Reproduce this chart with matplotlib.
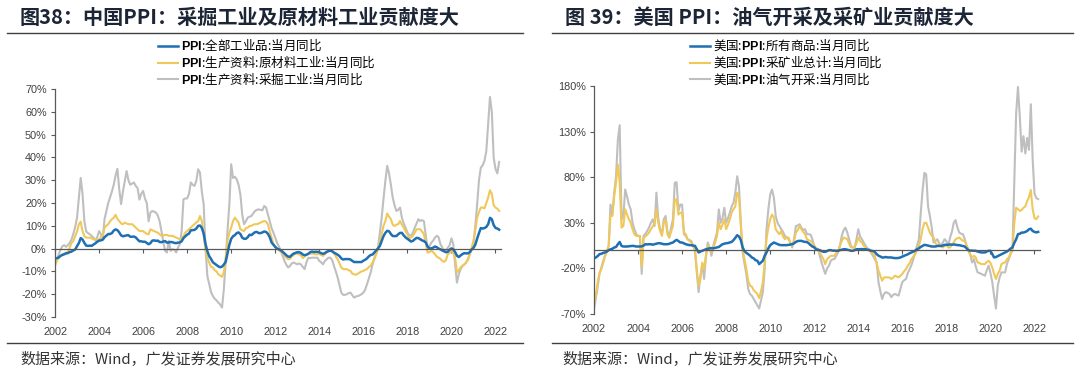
import numpy as np
import matplotlib
matplotlib.use("Agg")
import matplotlib.pyplot as plt
from matplotlib.lines import Line2D

# ---- data, monthly, 2002-01 .. 2022-03 (values in %) ----
# China PPI: all industrial products, yoy
cn_all = [
    -4.2, -4.2, -3.9, -3.2, -2.8, -2.5, -2.1, -2.0, -1.5, -1.3, -0.8, -0.4,
    1.1, 2.4, 4.6, 4.0, 2.5, 1.3, 1.2, 1.3, 1.2, 1.8, 2.3, 3.0,
    3.5, 3.6, 3.9, 5.0, 5.7, 6.4, 6.4, 6.8, 7.9, 8.4, 8.1, 7.1,
    5.8, 5.4, 5.6, 5.8, 5.9, 5.2, 5.2, 5.3, 4.9, 4.0, 3.2, 3.2,
    3.0, 3.0, 2.5, 1.9, 2.4, 3.5, 3.6, 3.4, 3.5, 2.9, 2.8, 3.1,
    3.3, 2.6, 2.7, 2.9, 2.8, 2.5, 2.4, 2.6, 2.7, 3.2, 4.6, 5.4,
    6.1, 6.6, 8.0, 8.1, 8.2, 8.8, 10.0, 10.1, 9.1, 6.6, 2.0, -1.1,
    -3.3, -4.5, -6.0, -6.6, -7.2, -7.8, -8.2, -7.9, -7.0, -5.8, -2.1, 1.7,
    4.3, 5.4, 5.9, 6.8, 7.1, 6.4, 4.8, 4.3, 4.3, 5.0, 6.1, 5.9,
    6.6, 7.2, 7.3, 6.8, 6.8, 7.1, 7.5, 7.3, 6.5, 5.0, 2.7, 1.7,
    0.7, 0.0, -0.3, -0.7, -1.4, -2.1, -2.9, -3.5, -3.6, -2.8, -2.2, -1.9,
    -1.6, -1.6, -1.9, -2.6, -2.9, -2.7, -2.3, -1.6, -1.3, -1.5, -1.4, -1.4,
    -1.6, -2.0, -2.3, -2.0, -1.4, -1.1, -0.9, -1.2, -1.8, -2.2, -2.7, -3.3,
    -4.3, -4.8, -4.6, -4.6, -4.6, -4.8, -5.4, -5.9, -5.9, -5.9, -5.9, -5.9,
    -5.3, -4.9, -4.3, -3.4, -2.8, -2.6, -1.7, -0.8, 0.1, 1.2, 3.3, 5.5,
    6.9, 7.8, 7.6, 6.4, 5.5, 5.5, 5.5, 6.3, 6.9, 6.9, 5.8, 4.9,
    4.3, 3.7, 3.1, 3.4, 4.1, 4.7, 4.6, 4.1, 3.6, 3.3, 2.7, 0.9,
    0.1, 0.1, 0.4, 0.9, 0.6, 0.0, -0.3, -0.8, -1.2, -1.6, -1.4, -0.5,
    0.1, -0.4, -1.5, -3.1, -3.7, -3.0, -2.4, -2.0, -2.1, -2.1, -1.5, -0.4,
    0.3, 1.7, 4.4, 6.8, 9.0, 8.8, 9.0, 9.5, 10.7, 13.5, 12.9, 10.3,
    9.1, 8.8, 8.3]

# China PPI: producer goods, raw materials
cn_raw = [
    -6.9, -5.5, -4.0, -3.3, -2.5, -2.2, -1.8, -1.5, 0.4, 2.5, 3.4, 5.5,
    7.5, 10.7, 11.8, 7.7, 5.5, 4.8, 4.8, 4.8, 4.5, 4.1, 4.0, 3.8,
    4.0, 5.0, 5.6, 9.2, 10.0, 10.7, 12.0, 12.9, 13.5, 14.8, 13.0, 12.1,
    11.0, 10.7, 11.4, 11.0, 10.7, 10.7, 10.7, 10.0, 9.2, 8.5, 7.7, 7.7,
    7.7, 7.0, 6.5, 6.3, 8.5, 8.0, 7.7, 7.3, 7.0, 6.3, 5.6, 5.8,
    6.0, 6.0, 5.6, 5.6, 5.6, 5.2, 4.8, 4.5, 4.1, 4.1, 5.5, 7.0,
    7.7, 8.5, 9.2, 10.0, 10.7, 11.5, 12.1, 14.3, 12.1, 6.0, -0.5, -4.0,
    -6.1, -8.0, -8.3, -9.5, -10.0, -11.3, -11.8, -12.4, -10.5, -4.0, 3.4, 7.0,
    9.2, 12.1, 13.6, 12.5, 11.4, 8.5, 8.0, 7.7, 9.0, 9.2, 9.9, 10.0,
    10.5, 10.7, 10.7, 11.0, 11.4, 11.8, 12.1, 11.8, 10.7, 7.5, 4.8, 1.9,
    1.0, 0.0, -0.8, -1.5, -1.8, -3.0, -4.0, -4.7, -4.5, -3.5, -2.8, -2.2,
    -2.2, -2.5, -3.0, -4.2, -3.5, -2.5, -2.2, -2.2, -2.2, -2.2, -2.5, -2.5,
    -2.3, -2.8, -3.2, -2.5, -1.8, -1.0, -0.7, -0.8, -1.8, -3.5, -4.7, -6.5,
    -8.3, -9.0, -9.0, -9.0, -9.5, -9.8, -11.0, -11.3, -11.5, -11.0, -10.5, -10.0,
    -9.8, -9.3, -9.0, -8.0, -7.6, -6.0, -4.7, -2.5, -0.3, 3.0, 6.3, 10.0,
    12.1, 15.4, 14.0, 12.9, 10.5, 9.9, 10.5, 10.7, 12.1, 10.5, 9.2, 7.5,
    6.3, 4.5, 5.0, 5.6, 7.0, 8.5, 8.5, 8.5, 7.5, 6.3, 2.6, -1.8,
    -1.5, -1.0, -1.5, -2.5, -3.5, -4.0, -4.5, -5.4, -5.8, -5.0, -2.5, -1.8,
    -1.0, -2.0, -4.0, -10.5, -9.5, -8.3, -7.5, -6.9, -6.1, -5.0, -2.5, 0.5,
    3.4, 8.0, 13.6, 16.0, 18.0, 18.0, 17.7, 20.0, 22.4, 25.6, 24.0, 19.0,
    18.0, 17.5, 16.5]

# China PPI: producer goods, mining
cn_mining = [
    -7.5, -5.0, -2.5, -0.5, 1.0, 1.5, 0.8, 1.5, 2.5, 4.0, 6.5, 9.5,
    13.5, 22.0, 31.0, 24.0, 12.0, 7.5, 6.8, 6.3, 5.5, 4.8, 3.5, 5.0,
    7.7, 6.3, 4.2, 13.0, 16.5, 20.0, 22.5, 25.0, 28.0, 32.0, 35.0, 26.0,
    19.5, 25.0, 29.5, 34.0, 30.0, 28.0, 28.5, 29.0, 27.5, 26.5, 21.5, 24.0,
    25.3, 22.0, 20.0, 12.0, 15.8, 16.5, 16.2, 15.8, 14.5, 12.0, 7.7, 3.0,
    -1.0, -1.7, 3.4, -1.0, -0.3, -0.5, -1.7, 0.4, 2.0, 7.7, 21.6, 22.0,
    22.0, 24.0, 29.0, 28.0, 27.5, 29.7, 34.8, 33.3, 25.0, 19.4, 0.4, -12.0,
    -15.6, -19.0, -20.8, -22.0, -22.7, -23.7, -24.5, -25.9, -17.8, -5.4, 8.0, 19.4,
    37.0, 31.0, 31.5, 30.4, 28.0, 23.8, 15.0, 10.7, 12.0, 13.6, 14.0, 14.3,
    15.5, 16.5, 17.0, 17.2, 17.0, 16.8, 18.7, 18.0, 15.0, 12.0, 9.0, 7.0,
    4.8, 2.5, 1.0, -1.0, -3.0, -5.4, -7.0, -8.3, -7.6, -6.5, -6.1, -6.5,
    -6.9, -6.5, -7.0, -8.0, -9.0, -6.0, -4.0, -4.2, -4.0, -4.0, -4.0, -4.0,
    -5.4, -6.0, -6.9, -5.5, -4.7, -4.0, -4.0, -5.0, -7.6, -10.0, -12.7, -16.0,
    -19.3, -20.3, -20.3, -20.0, -19.5, -19.3, -20.5, -21.5, -21.0, -20.8, -20.5, -20.0,
    -19.3, -18.0, -15.6, -13.0, -10.5, -7.0, -4.0, -2.0, 0.4, 7.0, 13.6, 22.0,
    29.7, 36.3, 33.0, 28.0, 22.4, 19.0, 16.5, 17.0, 18.0, 13.6, 11.0, 9.2,
    7.0, 6.0, 5.6, 7.0, 9.2, 11.0, 12.9, 12.1, 12.5, 12.0, 6.0, -0.3,
    1.0, 2.6, 3.5, 4.8, 5.6, 5.0, 1.9, 0.5, -1.0, -1.0, 0.4, 1.5,
    4.5, 2.0, -6.9, -14.9, -11.3, -9.0, -7.6, -7.0, -6.1, -4.5, -2.5, -0.5,
    1.9, 10.0, 19.4, 30.0, 35.5, 36.5, 38.5, 42.8, 55.0, 66.5, 60.0, 40.0,
    35.0, 33.0, 38.0]

# US PPI: all commodities
us_all = [
    -9.1, -8.0, -6.5, -4.4, -4.0, -3.0, -2.5, -1.5, 0.0, 1.0, 1.5, 2.9,
    3.5, 6.5, 9.0, 4.7, 4.0, 4.0, 4.0, 4.3, 4.5, 4.7, 4.5, 4.0,
    4.0, 4.0, 4.2, 5.0, 6.5, 6.3, 6.5, 6.5, 6.0, 6.5, 7.0, 7.6,
    7.6, 7.0, 6.5, 6.5, 6.5, 7.0, 7.8, 8.4, 10.0, 11.3, 10.0, 8.4,
    8.4, 7.5, 6.5, 6.0, 5.5, 5.5, 5.0, 4.7, 1.0, -2.5, -1.5, -0.7,
    0.0, 1.0, 1.5, 2.0, 2.2, 2.0, 2.5, 2.9, 3.5, 5.0, 6.5, 7.0,
    7.6, 7.8, 8.5, 9.0, 11.0, 13.5, 16.4, 15.0, 11.0, 2.9, -1.0, -3.0,
    -4.4, -6.0, -8.0, -9.0, -11.0, -11.6, -15.3, -13.5, -11.6, -6.0, -2.5, 2.0,
    5.5, 7.0, 8.4, 7.5, 6.5, 5.8, 5.5, 5.5, 5.5, 5.5, 5.8, 6.0,
    6.5, 7.5, 9.0, 10.0, 10.2, 10.2, 9.5, 9.0, 9.0, 7.5, 5.5, 4.0,
    3.0, 1.0, 0.5, 0.0, -1.0, -1.8, -1.8, -1.0, 0.0, 0.0, -0.5, -0.5,
    -0.7, -0.7, 0.0, 0.5, 1.0, 1.0, 0.5, 0.0, -0.7, -0.7, 0.0, 1.0,
    1.0, 1.0, 1.2, 1.0, 1.0, 0.5, 0.0, -0.7, -1.0, -2.0, -4.4, -6.0,
    -7.0, -8.0, -8.0, -7.5, -8.0, -8.0, -8.0, -8.5, -8.7, -8.7, -8.5, -8.0,
    -7.0, -6.2, -5.5, -4.5, -3.3, -2.5, -1.5, -0.5, 1.0, 2.0, 3.5, 4.7,
    5.8, 5.5, 5.0, 4.5, 4.0, 4.0, 4.0, 4.5, 4.7, 4.5, 5.0, 5.8,
    5.8, 6.0, 6.2, 6.0, 6.2, 6.0, 5.5, 5.5, 5.0, 4.5, 4.0, 2.0,
    0.0, -0.5, -0.5, -0.7, -0.7, -1.5, -2.0, -2.5, -2.5, -2.5, -1.5, -0.7,
    -0.7, -4.4, -8.0, -7.5, -6.5, -5.5, -4.5, -3.5, -2.5, -1.5, 0.0, 1.8,
    3.0, 8.0, 12.0, 17.5, 18.0, 19.3, 19.3, 20.0, 21.0, 22.9, 23.5, 21.0,
    20.0, 19.5, 20.0]

# US PPI: mining total
us_mining = [
    -59, -50, -35, -25, -20.7, -14, -6.2, -2, 4.7, 39, 37.5, 59,
    74, 94, 74, 24.7, 26.5, 44.7, 39, 34, 30, 23, 17.5, 15.6,
    15.6, 15.6, -18, 13.8, 15, 17, 19.3, 23, 26, 30, 44.7, 30,
    21, 15.6, 30, 33.8, 17.5, 13.8, 20, 26.5, 55.6, 55.6, 39, 41,
    41, 19.3, 17.5, 12, 10, 8.4, 4, 1, -20.7, -39, -31.6, -13.5,
    -20.7, -6.2, 4.7, 3, -2.5, 3, 8.4, 15.6, 30, 23, 28, 33.8,
    23, 28, 33.8, 41, 45, 48, 63, 58, 26.5, 1, -10, -20.7,
    -33.5, -39, -40, -44, -46, -48, -52.7, -45, -35, -13.5, 12, 25,
    33.8, 39, 35.6, 23, 20, 17.5, 21, 15, 12, 13.8, 13.8, 8,
    4.7, 10.2, 19.3, 22, 26.5, 23, 20, 17.5, 12, 11, 10.2, 8,
    4.7, 2, 1, -3, -6.2, -10, -15.3, -10, -8, -6.2, -6.2, -6.2,
    -3, -0.7, 5, 10.2, 13.8, 13, 12, 7, 2.9, 2.9, 2.9, 8,
    13.8, 10, 8.4, 4.7, 3, 1, 0, -2.5, -4, -6.2, -14, -22.5,
    -28, -33.5, -30, -29.8, -29.8, -30, -31.6, -30, -28, -29, -29.8, -28,
    -26, -23, -20.7, -17, -14, -9.8, -7, -4.4, 0, 4.7, 12, 23,
    30, 30, 25, 19.3, 16, 13.8, 8, 4.7, 6.5, 5, 2.9, 4.5,
    6.5, 2.9, 2.9, 6, 8.4, 12, 13, 13.8, 12, 10.2, 10.2, 5,
    -0.7, -5, -8, -6.2, -8, -13.5, -14, -15.3, -15.3, -15.3, -13, -11.6,
    -14, -19, -26, -31.6, -26, -22.5, -15.3, -14, -13.5, -10, -8, -3,
    -0.7, 30, 46.5, 45, 43, 44, 46.5, 48, 53.8, 58, 66, 45,
    35, 34, 37]

# US PPI: oil and gas extraction
us_oil = [
    -64, -53, -40, -26, -19, -12, -6.2, -1, 4.7, 50, 39, 63,
    81, 121, 137, 33.8, 37.5, 66.5, 59, 50, 44.7, 30, 23, 17.5,
    15.6, 15.6, -26, 15.6, 18, 21, 25, 30, 33.8, 26.5, 63, 35,
    23, 17.5, 33.8, 37.5, 21, 13.8, 25, 33.8, 74, 74.5, 43, 50,
    50, 17.5, 15.6, 12, 11, 10.2, 5, -0.7, -24.4, -46, -28, -15.3,
    -31.6, -6.2, 8.4, 2.9, -6.2, 5, 12, 19.3, 44.7, 30, 35, 46.5,
    30, 35, 41, 48, 52, 63, 81, 70, 30, -2.5, -15, -26,
    -42.5, -48, -50, -53.5, -57, -60.7, -64, -55, -46, -20.7, 23, 45,
    61, 66.5, 57.5, 37.5, 30, 26.5, 23, 20, 15.6, 14, 12, 8,
    2.9, 12, 26.5, 27, 28.4, 24.7, 22, 23, 17.5, 17.5, 17, 12,
    4.7, 2, 1, -6, -13.5, -20, -26, -20, -17, -11.6, -10, -9.8,
    -6, -2.5, 5, 15.6, 22, 24.7, 19.3, 12, 4.7, 3, 2.9, 12,
    23, 15, 12, 8, 4.7, 2, 1, -3, -6.2, -10, -13.5, -35,
    -45, -53.5, -48, -46, -47, -48, -51.6, -49, -48, -49, -49.8, -42,
    -35, -33, -31.6, -25, -20.7, -16, -10, -2.5, 5, 12, 40, 65,
    84.7, 83, 48, 37.5, 25, 8.4, 10, 12, 8, 4.7, 8, 12,
    10, 4.7, 13.8, 20, 30, 33, 25, 19.3, 18, 17.5, 12, 5,
    1, -5, -13.5, -9.8, -18, -24.4, -25, -26, -27, -28, -22, -17,
    -25, -35, -50, -64, -39, -30, -24.4, -24.4, -24.4, -15, -9.8, -4,
    1, 74, 150, 179, 146, 108, 125, 106, 123, 110, 160, 100,
    62, 57, 56]

years = list(range(2002, 2023, 2))
cn_yticks = [-30, -20, -10, 0, 10, 20, 30, 40, 50, 60, 70]
us_yticks = [-70, -20, 30, 80, 130, 180]

cn_labels = [r"$\mathbf{PPI}$:全部工业品:当月同比",
             r"$\mathbf{PPI}$:生产资料:原材料工业:当月同比",
             r"$\mathbf{PPI}$:生产资料:采掘工业:当月同比"]
us_labels = [r"美国:$\mathbf{PPI}$:所有商品:当月同比",
             r"美国:$\mathbf{PPI}$:采矿业总计:当月同比",
             r"美国:$\mathbf{PPI}$:油气开采:当月同比"]

BLUE, YELLOW, GREY = "#1f6fb4", "#f0c85a", "#bfbfbf"

plt.rcParams["font.family"] = ["Noto Sans CJK SC", "DejaVu Sans"]
plt.rcParams["mathtext.fontset"] = "custom"
plt.rcParams["mathtext.bf"] = "Liberation Sans:bold"
plt.rcParams["mathtext.rm"] = "Liberation Sans"

W, H = 1080, 374
fig = plt.figure(figsize=(W / 100, H / 100), dpi=100)


def fx(x):
    return x / W


def fy(y):
    return 1 - y / H


def setup(ax, ylim, yticks):
    ax.set_xlim(2002, 2022.25)
    ax.set_ylim(*ylim)
    ax.set_yticks(yticks)
    ax.set_yticklabels([f"{v}%" for v in yticks], fontfamily="Liberation Sans",
                       fontsize=7.8, color="#404040")
    for s in ["top", "right"]:
        ax.spines[s].set_visible(False)
    for s in ["left", "bottom"]:
        ax.spines[s].set_color("#595959")
        ax.spines[s].set_linewidth(0.9)
    ax.spines["bottom"].set_position(("data", 0))
    ax.set_xticks(years)
    ax.tick_params(axis="x", length=3, width=0.8, color="#595959", labelbottom=False)
    ax.tick_params(axis="y", length=3, width=0.8, color="#595959", pad=3)
    sec = ax.secondary_xaxis("bottom")
    sec.set_xticks(years, labels=[str(y) for y in years],
                   fontfamily="Liberation Sans", fontsize=7.8, color="#404040")
    sec.tick_params(length=0, pad=7)
    sec.spines["bottom"].set_visible(False)


def draw(ax, a, b, c):
    t = 2002 + np.arange(len(a)) / 12
    ax.plot(t, c, color=GREY, lw=1.5)
    ax.plot(t, b, color=YELLOW, lw=1.5)
    ax.plot(t, a, color=BLUE, lw=1.8)


ax1 = fig.add_axes([fx(55), fy(317), 446 / W, 228 / H])
setup(ax1, (-30, 70), cn_yticks)
draw(ax1, cn_all, cn_raw, cn_mining)

ax2 = fig.add_axes([fx(594), fy(314), 446 / W, 228 / H])
setup(ax2, (-70, 180), us_yticks)
draw(ax2, us_all, us_mining, us_oil)

# legends
handles = [Line2D([], [], color=BLUE, lw=1.8), Line2D([], [], color=YELLOW, lw=1.5),
           Line2D([], [], color=GREY, lw=1.5)]
for x0, labels in [(158, cn_labels), (690, us_labels)]:
    fig.legend(handles, labels, loc="upper left", bbox_to_anchor=(fx(x0), fy(37)),
               frameon=False, fontsize=9, handlelength=1.6, handletextpad=0.25,
               labelspacing=0.02, borderpad=0, borderaxespad=0)

# titles, rules and source notes
fig.text(fx(20), fy(17), "图38：中国PPI：采掘工业及原材料工业贡献度大", fontsize=14.5,
         fontweight="bold", color="#1c2535", va="center")
fig.text(fx(565), fy(17), "图 39：美国 PPI：油气开采及采矿业贡献度大", fontsize=14.5,
         fontweight="bold", color="#1c2535", va="center")
for y in [32.5, 342.5]:
    fig.add_artist(Line2D([fx(7), fx(523)], [fy(y), fy(y)], color="#404040", lw=1))
    fig.add_artist(Line2D([fx(552), fx(1073)], [fy(y), fy(y)], color="#404040", lw=1))
fig.text(fx(20), fy(359), "数据来源：Wind，广发证券发展研究中心", fontsize=10.8,
         color="#333333", va="center")
fig.text(fx(562), fy(359), "数据来源：Wind，广发证券发展研究中心", fontsize=10.8,
         color="#333333", va="center")

fig.savefig("out.png", dpi=100)
